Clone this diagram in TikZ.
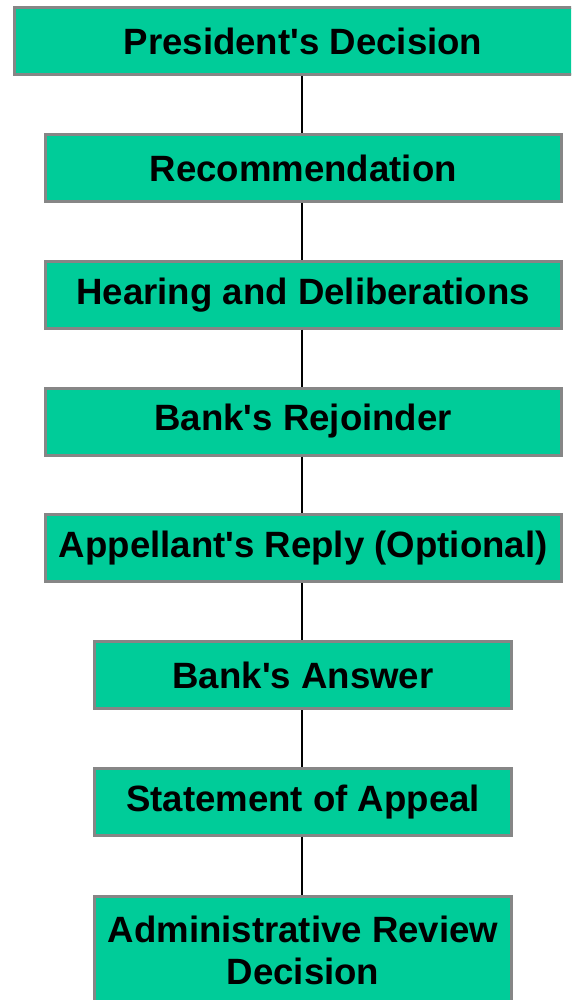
\documentclass[tikz,border=0pt]{standalone}
\usepackage{fontspec}
\newfontfamily\boxfont{Liberation Sans}
\definecolor{boxgreen}{HTML}{00CC99}
\definecolor{boxborder}{HTML}{868686}
\begin{document}
\begin{tikzpicture}[x=1pt,y=1pt,
  stage/.style={draw=boxborder, line width=3pt, fill=boxgreen, rectangle,
    minimum height=67pt, inner sep=0pt, align=center,
    font=\boxfont\fontsize{36.6}{42}\selectfont\bfseries},
  link/.style={draw=black, line width=2pt}]
\useasboundingbox (0,0) rectangle (571,-1000);
\begin{scope}
\clip (0,0) rectangle (571,-1000);
\node[stage, minimum width=577pt] (n1) at (303,-41.2) {President's Decision};
\node[stage, minimum width=516pt] (n2) at (303.2,-168) {Recommendation};
\node[stage, minimum width=516pt] (n3) at (303.2,-294.7) {Hearing and Deliberations};
\node[stage, minimum width=516pt] (n4) at (303.2,-421.5) {Bank's Rejoinder};
\node[stage, minimum width=516pt] (n5) at (303.2,-548.2) {Appellant's Reply (Optional)};
\node[stage, minimum width=417pt] (n6) at (303,-675) {Bank's Answer};
\node[stage, minimum width=417pt] (n7) at (303,-801.7) {Statement of Appeal};
\node[stage, minimum width=417pt, minimum height=108pt, anchor=north] (n8) at (303,-894.5) {Administrative Review\\Decision};
\end{scope}
\draw[link] (n1.south -| 302,0) -- (n2.north -| 302,0);
\draw[link] (n2.south -| 302,0) -- (n3.north -| 302,0);
\draw[link] (n3.south -| 302,0) -- (n4.north -| 302,0);
\draw[link] (n4.south -| 302,0) -- (n5.north -| 302,0);
\draw[link] (n5.south -| 302,0) -- (n6.north -| 302,0);
\draw[link] (n6.south -| 302,0) -- (n7.north -| 302,0);
\draw[link] (n7.south -| 302,0) -- (n8.north -| 302,0);
\end{tikzpicture}
\end{document}
